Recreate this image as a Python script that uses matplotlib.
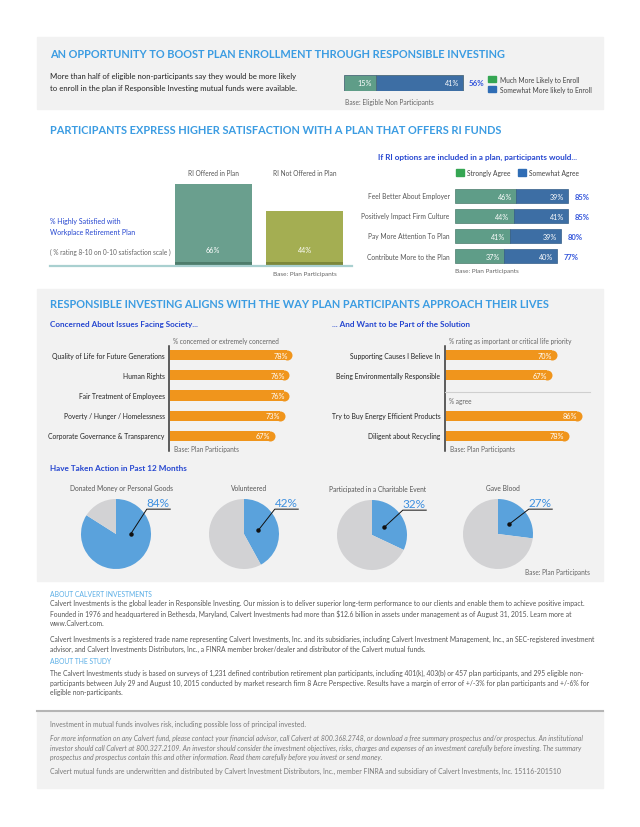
import math
import matplotlib.pyplot as plt
from matplotlib.patches import Rectangle

W, H = 640, 828

# ---- data ----
enroll_labels = ['Much More Likely to Enroll', 'Somewhat More likely to Enroll']
enroll_values = [15, 41]

sat_groups = ['RI Offered in Plan', 'RI Not Offered in Plan']
sat_values = [66, 44]

agree_items = ['Feel Better About Employer', 'Positively Impact Firm Culture',
               'Pay More Attention To Plan', 'Contribute More to the Plan']
strongly_agree = [46, 44, 41, 37]
somewhat_agree = [39, 41, 39, 40]

concern_items = ['Quality of Life for Future Generations', 'Human Rights',
                 'Fair Treatment of Employees', 'Poverty / Hunger / Homelessness',
                 'Corporate Governance & Transparency']
concern_values = [78, 76, 76, 73, 67]

priority_items = ['Supporting Causes I Believe In', 'Being Environmentally Responsible']
priority_values = [70, 67]
agree2_items = ['Try to Buy Energy Efficient Products', 'Diligent about Recycling']
agree2_values = [86, 78]

action_items = ['Donated Money or Personal Goods', 'Volunteered',
                'Participated in a Charitable Event', 'Gave Blood']
action_values = [84, 42, 32, 27]

# ---- colours ----
TITLE_BLUE = '#3b9ce2'
DARK_BLUE = '#2546d0'
TOTAL_BLUE = '#3557dc'
TEAL = '#5f9d88'
STEEL = '#3d6ea4'
ORANGE = '#f0951c'
PIE_BLUE = '#5aa2dc'
PIE_GRAY = '#d2d2d4'
PANEL = '#f2f2f2'
GRAY_TXT = '#666666'

plt.rcParams['font.family'] = ['Lato', 'DejaVu Sans']

fig = plt.figure(figsize=(W / 100, H / 100), dpi=100)
page = fig.add_axes([0, 0, 1, 1])
page.set_xlim(0, W)
page.set_ylim(H, 0)
page.axis('off')


def txt(x, y, s, size=5, color='#222222', **kw):
    kw.setdefault('va', 'center')
    page.text(x, y, s, fontsize=size, color=color, parse_math=False, **kw)


def box(x0, y0, x1, y1):
    ax = fig.add_axes([x0 / W, 1 - y1 / H, (x1 - x0) / W, (y1 - y0) / H])
    ax.patch.set_alpha(0)
    return ax


# background panels
page.add_patch(Rectangle((37, 38), 566, 72, color=PANEL, zorder=0))
page.add_patch(Rectangle((37, 290), 566, 292, color=PANEL, zorder=0))
page.add_patch(Rectangle((37, 712), 566, 77, color=PANEL, zorder=0))
page.plot([37, 603], [712, 712], color='#b5b5b5', lw=1.5)

# ---------- section 1 ----------
txt(50, 55, 'AN OPPORTUNITY TO BOOST PLAN ENROLLMENT THROUGH RESPONSIBLE INVESTING',
    size=7.95, color=TITLE_BLUE, fontweight='bold')
txt(50, 77, 'More than half of eligible non-participants say they would be more likely', size=5.55)
txt(50, 89, 'to enroll in the plan if Responsible Investing mutual funds were available.', size=5.55)

ax = box(344, 76, 556.5, 92)
left = 0
for v, c in zip(enroll_values, [TEAL, STEEL]):
    ax.barh(0, v, left=left, height=1, color=c, edgecolor='#4d6a7a', lw=0.6)
    ax.text(left + v - 2, 0, f'{v}%', ha='right', va='center', color='white', fontsize=5.2)
    left += v
ax.text(left + 2.8, 0, f'{sum(enroll_values)}%', ha='left', va='center',
        color=TOTAL_BLUE, fontsize=5.7, fontweight='bold')
ax.set_xlim(0, 100)
ax.set_ylim(-0.5, 0.5)
ax.axis('off')
for i, (lab, c) in enumerate(zip(enroll_labels, ['#35a653', '#2f6db5'])):
    page.add_patch(Rectangle((488, 77 + 10 * i), 8, 6, color=c))
    txt(500, 80 + 10 * i, lab, size=4.8, color='#444444')
txt(345, 102, 'Base: Eligible Non Participants', size=4.8, color=GRAY_TXT)

# ---------- section 2 ----------
txt(50, 130, 'PARTICIPANTS EXPRESS HIGHER SATISFACTION WITH A PLAN THAT OFFERS RI FUNDS',
    size=7.95, color=TITLE_BLUE, fontweight='bold')

ax = box(50, 142.5, 352, 267)
xs = range(len(sat_values))
ax.bar(xs, sat_values, width=0.837, color=['#6a9f8e', '#a4ae52'])
ax.bar(xs, 3.2, width=0.837, color=['#4e7d6c', '#7d883a'])
for i, (g, v) in enumerate(zip(sat_groups, sat_values)):
    ax.text(i, 13.5, f'{v}%', ha='center', va='center', color='white', fontsize=5.2)
    ax.text(i, 75.5, g, ha='center', va='center', color='#555555', fontsize=4.7)
ax.axhline(0, color='#a9d0d0', lw=1.6, clip_on=False)
ax.set_xlim(-1.772, 1.511)
ax.set_ylim(0, 100)
ax.axis('off')
txt(50, 222, '% Highly Satisfied with', size=5, color=DARK_BLUE)
txt(50, 233, 'Workplace Retirement Plan', size=5, color=DARK_BLUE)
txt(50, 252, '( % rating 8-10 on 0-10 satisfaction scale )', size=4.7, color=GRAY_TXT)
txt(273, 275, 'Base: Plan Participants', size=4.6, color=GRAY_TXT)

txt(378, 157, 'If RI options are included in a plan, participants would...',
    size=5.9, color=DARK_BLUE, fontweight='bold')
page.add_patch(Rectangle((456, 170), 8, 7, color='#35a653'))
txt(467, 173.5, 'Strongly Agree', size=4.8, color='#444444')
page.add_patch(Rectangle((518, 170), 8, 7, color='#2f6db5'))
txt(529, 173.5, 'Somewhat Agree', size=4.8, color='#444444')

ax = box(455, 187, 588, 267)
ys = range(len(agree_items))
ax.barh(ys, strongly_agree, height=0.7, color=TEAL, edgecolor='#4c7c6c', lw=0.5)
ax.barh(ys, somewhat_agree, left=strongly_agree, height=0.7, color=STEEL,
        edgecolor='#345d88', lw=0.5)
for y, lab, s, w in zip(ys, agree_items, strongly_agree, somewhat_agree):
    ax.text(-4, y, lab, ha='right', va='center', color='#555555', fontsize=4.8)
    ax.text(s - 3, y, f'{s}%', ha='right', va='center', color='white', fontsize=5.2)
    ax.text(s + w - 3, y, f'{w}%', ha='right', va='center', color='white', fontsize=5.2)
    ax.text(s + w + 5, y, f'{s + w}%', ha='left', va='center', color=TOTAL_BLUE,
            fontsize=5.5, fontweight='bold')
ax.set_xlim(0, 100)
ax.set_ylim(3.5, -0.5)
ax.axis('off')
txt(455, 272, 'Base: Plan Participants', size=4.6, color=GRAY_TXT)

# ---------- section 3 ----------
txt(50, 305, 'RESPONSIBLE INVESTING ALIGNS WITH THE WAY PLAN PARTICIPANTS APPROACH THEIR LIVES',
    size=7.9, color=TITLE_BLUE, fontweight='bold')
txt(50, 325, 'Concerned About Issues Facing Society...', size=5.9, color=DARK_BLUE, fontweight='bold')
txt(332, 325, '... And Want to be Part of the Solution', size=5.9, color=DARK_BLUE, fontweight='bold')


def orange_bars(ax, pos, labels, values, px_per_unit):
    r = 5 / px_per_unit
    ax.barh(pos, [v - r for v in values], height=0.5, color=ORANGE)
    ax.scatter([v - r for v in values], pos, s=52, color=ORANGE, lw=0, zorder=3)
    for p, lab, v in zip(pos, labels, values):
        ax.text(-3.5, p, lab, ha='right', va='center', color='#222222', fontsize=4.9)
        ax.text(v - 3, p, f'{v}%', ha='right', va='center', color='white',
                fontsize=5.3, zorder=4)
    ax.set_xlim(0, 100)
    ax.set_ylim(4.5, -0.5)
    ax.axis('off')


ax = box(170, 346, 327, 447)
orange_bars(ax, list(range(5)), concern_items, concern_values, 1.57)
page.plot([169, 169], [347, 452], color='#333333', lw=1.1)
txt(173, 342, '% concerned or extremely concerned', size=4.7, color=GRAY_TXT)
txt(174, 450, 'Base: Plan Participants', size=4.7, color=GRAY_TXT)

ax = box(446, 346, 604, 447)
orange_bars(ax, [0, 1, 3, 4], priority_items + agree2_items,
            priority_values + agree2_values, 1.58)
page.plot([445, 445], [347, 452], color='#333333', lw=1.1)
page.plot([445, 590], [393, 393], color='#cfcfcf', lw=0.8)
txt(449, 342, '% rating as important or critical life priority', size=4.7, color=GRAY_TXT)
txt(449, 402, '% agree', size=4.7, color=GRAY_TXT)
txt(450, 450, 'Base: Plan Participants', size=4.7, color=GRAY_TXT)

txt(50, 469, 'Have Taken Action in Past 12 Months', size=5.85, color=DARK_BLUE, fontweight='bold')

centers = [(116, 535), (244, 535), (372, 536), (498, 535)]
for (cx, cy), name, v in zip(centers, action_items, action_values):
    ax = box(cx - 42, cy - 42, cx + 42, cy + 42)
    ax.pie([v, 100 - v], colors=[PIE_BLUE, PIE_GRAY], startangle=90,
           counterclock=False, radius=1, wedgeprops=dict(lw=0))
    ax.set_xlim(-1.2, 1.2)
    ax.set_ylim(-1.2, 1.2)
    ax.set_aspect('equal')
    a = math.radians(90 - min(v, 50) * 1.8)
    dx, dy = 0.42 * math.cos(a), 0.42 * math.sin(a)
    ax.plot([dx, 0.88, 1.55], [dy, 0.71, 0.71], color='#111111', lw=0.7, clip_on=False)
    ax.plot(dx, dy, 'o', color='#111111', ms=2.2, clip_on=False)
    ax.text(1.2, 0.75, f'{v}%', ha='center', va='bottom', color='#3d8fdf', fontsize=8.5)
    ax.text(0.15, 1.34, name, ha='center', va='center', color='#555555', fontsize=4.8)
txt(590, 573, 'Base: Plan Participants', size=4.7, color=GRAY_TXT, ha='right')

# ---------- about ----------
ABOUT = '#5aaee6'
BODY = '#555555'
BS = 4.9
txt(50, 594.5, 'ABOUT CALVERT INVESTMENTS', size=BS, color=ABOUT)
about_lines = [
    (604, 'Calvert Investments is the global leader in Responsible Investing. Our mission is to deliver superior long-term performance to our clients and enable them to achieve positive impact.'),
    (614, 'Founded in 1976 and headquartered in Bethesda, Maryland, Calvert Investments had more than $12.6 billion in assets under management as of August 31, 2015. Learn more at'),
    (624, 'www.Calvert.com.'),
    (639, 'Calvert Investments is a registered trade name representing Calvert Investments, Inc. and its subsidiaries, including Calvert Investment Management, Inc., an SEC-registered investment'),
    (649, 'advisor, and Calvert Investments Distributors, Inc., a FINRA member broker/dealer and distributor of the Calvert mutual funds.'),
    (673, 'The Calvert Investments study is based on surveys of 1,231 defined contribution retirement plan participants, including 401(k), 403(b) or 457 plan participants, and 295 eligible non-'),
    (683, 'participants between July 29 and August 10, 2015 conducted by market research firm 8 Acre Perspective. Results have a margin of error of +/-3% for plan participants and +/-6% for'),
    (693, 'eligible non-participants.'),
]
for y, s in about_lines:
    txt(50, y, s, size=BS, color=BODY)
txt(50, 662, 'ABOUT THE STUDY', size=BS, color=ABOUT)

# ---------- footer ----------
FOOT = '#7a7a7a'
FS = 4.95
txt(50, 724, 'Investment in mutual funds involves risk, including possible loss of principal invested.', size=FS, color=FOOT)
foot_italic = [
    (738, 'For more information on any Calvert fund, please contact your financial advisor, call Calvert at 800.368.2748, or download a free summary prospectus and/or prospectus. An institutional'),
    (748, 'investor should call Calvert at 800.327.2109. An investor should consider the investment objectives, risks, charges and expenses of an investment carefully before investing. The summary'),
    (758, 'prospectus and prospectus contain this and other information. Read them carefully before you invest or send money.'),
]
for y, s in foot_italic:
    txt(50, y, s, size=FS, color=FOOT, style='italic')
txt(50, 771, 'Calvert mutual funds are underwritten and distributed by Calvert Investment Distributors, Inc., member FINRA and subsidiary of Calvert Investments, Inc. 15116-201510', size=FS, color=FOOT)

fig.savefig('out.png', dpi=100)
